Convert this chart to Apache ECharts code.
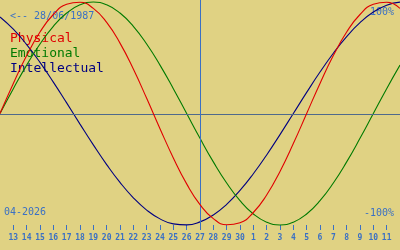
<!DOCTYPE html>
<html>
<head>
<meta charset="utf-8">
<script src="https://cdn.jsdelivr.net/npm/echarts@6/dist/echarts.min.js"></script>
<style>
html,body{margin:0;padding:0;background:#e0d283;}
#c{width:400px;height:250px;}
</style>
</head>
<body>
<div id="c"></div>
<script>
// day offsets relative to the marked day (27 April 2026)
const offsets = [-15,-14,-13,-12,-11,-10,-9,-8,-7,-6,-5,-4,-3,-2,-1,0,1,2,3,4,5,6,7,8,9,10,11,12,13,14,15];
// day-of-month tick labels for the offsets above
const dayLabels = ['12','13','14','15','16','17','18','19','20','21','22','23','24','25','26','27','28','29','30','1','2','3','4','5','6','7','8','9','10','11','12'];
// offsets that carry a tick and a label
const tickOffsets = offsets.slice(1, -1);
// cycle values (-1..1)
const physical = [0,0.2698,0.5196,0.7308,0.8879,0.9791,0.9977,0.9423,0.8170,0.6310,0.3984,0.1362,-0.1362,-0.3984,-0.6310,-0.8170,-0.9423,-0.9977,-0.9791,-0.8879,-0.7308,-0.5196,-0.2698,0,0.2698,0.5196,0.7308,0.8879,0.9791,0.9977,0.9423];
const emotional = [0,0.2225,0.4339,0.6235,0.7818,0.9010,0.9749,1,0.9749,0.9010,0.7818,0.6235,0.4339,0.2225,0,-0.2225,-0.4339,-0.6235,-0.7818,-0.9010,-0.9749,-1,-0.9749,-0.9010,-0.7818,-0.6235,-0.4339,-0.2225,0,0.2225,0.4339];
const intellectual = [0.8660,0.7557,0.6182,0.4582,0.2817,0.0951,-0.0951,-0.2817,-0.4582,-0.6182,-0.7557,-0.8660,-0.9450,-0.9898,-0.9989,-0.9718,-0.9096,-0.8146,-0.6901,-0.5406,-0.3717,-0.1893,0,0.1893,0.3717,0.5406,0.6901,0.8146,0.9096,0.9718,0.9989];
const seriesNames = ['Physical','Emotional','Intellectual'];
const birthText = '<-- 28/06/1987';
const monthText = '04-2026';
const topText = '100%';
const bottomText = '-100%';
const markedDay = 0;
const midValue = -0.0135;
const yMin = -1.0448, yMax = 1.0179;

const BLUE = '#3a70c4';
const MID = '#4f6a8c';
const colors = ['#e00000','#007a00','#000080'];
const mono = '"DejaVu Sans Mono", "Liberation Mono", monospace';

function pairs(vals){ return offsets.map((d,i)=>[d, vals[i]]); }

const chart = echarts.init(document.getElementById('c'), null, {renderer:'canvas'});
chart.setOption({
  backgroundColor: '#e0d283',
  animation: false,
  grid: {left: 0, right: 0, top: 0, bottom: 20},
  xAxis: {
    type: 'value', min: offsets[0], max: offsets[offsets.length-1], interval: 1,
    axisLine: {show: false, onZero: false},
    splitLine: {show: false},
    axisTick: {show: true, inside: true, length: 5, customValues: tickOffsets, lineStyle: {color: BLUE, width: 1}},
    axisLabel: {
      customValues: tickOffsets,
      margin: 4, color: BLUE, fontFamily: mono, fontSize: 8, fontWeight: 'bold',
      formatter: v => dayLabels[offsets.indexOf(v)]
    }
  },
  yAxis: {
    type: 'value', min: yMin, max: yMax, show: false, splitLine: {show: false}
  },
  series: [
    {
      type: 'line', name: seriesNames[2], data: pairs(intellectual), smooth: 0.5,
      showSymbol: false, lineStyle: {color: colors[2], width: 1.1},
      markLine: {
        silent: true, symbol: 'none', label: {show: false},
        data: [
          {yAxis: midValue, lineStyle: {color: MID}},
          {xAxis: markedDay, lineStyle: {color: BLUE}}
        ],
        lineStyle: {width: 1, type: 'solid'}
      },
      z: 3
    },
    {
      type: 'line', name: seriesNames[1], data: pairs(emotional), smooth: 0.5,
      showSymbol: false, lineStyle: {color: colors[1], width: 1.1}, z: 4
    },
    {
      type: 'line', name: seriesNames[0], data: pairs(physical), smooth: 0.5,
      showSymbol: false, lineStyle: {color: colors[0], width: 1.1}, z: 5
    }
  ],
  graphic: [
    {type:'text', left: 10, top: 11, style:{text: birthText, fill: BLUE, font: '10px ' + mono}},
    {type:'text', left: 10, top: 32, style:{text: seriesNames[0], fill: colors[0], font: '13px ' + mono}},
    {type:'text', left: 10, top: 47, style:{text: seriesNames[1], fill: colors[1], font: '13px ' + mono}},
    {type:'text', left: 10, top: 62, style:{text: seriesNames[2], fill: colors[2], font: '13px ' + mono}},
    {type:'text', right: 6, top: 7, style:{text: topText, fill: BLUE, font: '10px ' + mono}},
    {type:'text', right: 6, top: 208, style:{text: bottomText, fill: BLUE, font: '10px ' + mono}},
    {type:'text', left: 4, top: 207, style:{text: monthText, fill: BLUE, font: '10px ' + mono}}
  ]
});
</script>
</body>
</html>
